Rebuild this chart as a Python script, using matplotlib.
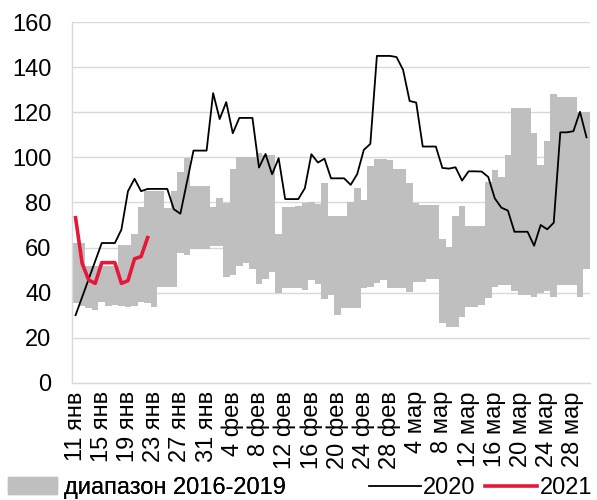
import numpy as np
import pandas as pd
import matplotlib
matplotlib.use('Agg')
import matplotlib.pyplot as plt
from matplotlib.patches import Patch
from matplotlib.lines import Line2D

# days 11 Jan .. 30 Mar
days = pd.date_range('2021-01-11', '2021-03-30', freq='D')

range_max = [62, 62, 52, 52, 52, 52, 52, 61, 61, 66,
             78, 85, 85, 85, 77.5, 85, 93.7, 99.5, 87.3, 87.3,
             87.3, 78, 82, 79.6, 95, 100, 100, 100, 102, 101,
             101, 66, 78, 78, 78.4, 79.6, 80, 79.3, 88.5, 74,
             74, 74, 80.4, 86.3, 81.1, 96.3, 99.3, 99.3, 99, 94.7,
             94.7, 88.5, 79.6, 79, 79, 79, 63.8, 60.4, 74, 78.4,
             69.7, 69.7, 69.7, 89, 94.4, 91.4, 101, 122, 122, 122,
             111, 96.6, 107.3, 128, 126.6, 126.6, 126.6, 120, 120]

range_min = [35.5, 34, 33, 32.5, 36, 34, 34.4, 34, 33.5, 34,
             35.7, 35.3, 33.8, 42.6, 42.6, 42.6, 57.4, 56.7, 59.4, 59.4,
             59.4, 60.7, 60.7, 46.8, 47.8, 52, 53.3, 50.5, 43.8, 45.9,
             49.3, 39.7, 41.9, 41.9, 41.9, 41.2, 45.6, 43.8, 37, 39,
             30.1, 33, 33, 33, 41.9, 42.6, 44.1, 45.6, 41.9, 41.9,
             41.9, 40.4, 44.6, 44.6, 46.2, 46.2, 26.4, 24.9, 24.9, 29.3,
             33.8, 33.8, 34.5, 37.5, 42.4, 43.4, 43.4, 40.9, 39, 39,
             38.2, 39.7, 40.9, 37.9, 43.4, 43.4, 43.4, 38, 50.4]

y2020 = [30, 38, 46, 54, 62, 62, 62, 68, 85, 90.5,
         85, 86, 86, 86, 86, 77, 75, 89, 103, 103,
         103, 128.5, 117, 124.5, 110.7, 117.5, 117.5, 117.5, 95.5, 101.5,
         92.5, 99.6, 81.5, 81.5, 81.5, 86.3, 101.4, 97.7, 99.4, 90.7,
         90.7, 90.7, 87.8, 92.6, 103.3, 106, 145, 145, 145, 144.5,
         138.8, 125, 124.3, 104.8, 104.8, 104.8, 95.3, 95, 95.6, 89.7,
         93.8, 93.8, 93.7, 91.3, 81.8, 77.7, 76.4, 67, 67, 67,
         60.8, 70, 68.1, 71, 111.1, 111.1, 111.6, 120.2, 108.9]

y2021 = [73.2, 53, 45.6, 44.1, 53.3, 53.3, 53.3, 44.1, 45.3, 55, 56, 64.4]

tick_labels = ['11 янв', '15 янв', '19 янв', '23 янв', '27 янв', '31 янв',
               '4 фев', '8 фев', '12 фев', '16 фев', '20 фев', '24 фев', '28 фев',
               '4 мар', '8 мар', '12 мар', '16 мар', '20 мар', '24 мар', '28 мар']

plt.rcParams['font.family'] = ['Liberation Sans', 'DejaVu Sans']
fs = 17
grey = '#BFBFBF'
red = '#E8173A'

fig = plt.figure(figsize=(5.97, 5.0), dpi=100)
ax = fig.add_axes([0.1211, 0.2344, 0.8668, 0.7214])

x = np.arange(len(days))
# floating range bars, one per day, drawn as a single stepped band
edges = np.arange(len(days) + 1) - 0.5
ax.stairs(range_max, edges, baseline=range_min, fill=True,
          color=grey, linewidth=0, zorder=2)
ax.plot(x, y2020, color='black', lw=1.3, zorder=3)
ax.plot(x[:len(y2021)], y2021, color=red, lw=2.6, zorder=4)

ax.set_xlim(-0.5, len(days) - 0.5)
ax.set_ylim(0, 160)
ax.set_yticks(np.arange(0, 161, 20))
ax.set_xticks(x[::4])
ax.set_xticklabels(tick_labels, rotation=90, fontsize=fs)
ax.tick_params(axis='y', labelsize=fs, length=0, pad=15)
ax.tick_params(axis='x', length=0, pad=6)
ax.grid(axis='y', color='#D9D9D9', lw=1.0, zorder=0)
ax.set_axisbelow(True)
for s in ['top', 'right']:
    ax.spines[s].set_visible(False)
for s in ['left', 'bottom']:
    ax.spines[s].set_color('#D9D9D9')
    ax.spines[s].set_linewidth(1.0)

leg1 = fig.legend(handles=[Patch(color=grey, label='диапазон 2016-2019')],
                  loc='center left', bbox_to_anchor=(0.013, 0.024), frameon=False,
                  fontsize=fs, borderpad=0, borderaxespad=0, handlelength=2.1,
                  handletextpad=0.3)
leg2 = fig.legend(handles=[Line2D([], [], color='black', lw=1.3, label='2020'),
                           Line2D([], [], color=red, lw=2.6, label='2021')],
                  loc='center left', bbox_to_anchor=(0.618, 0.024), frameon=False,
                  fontsize=fs, ncol=2, borderpad=0, borderaxespad=0,
                  handlelength=2.2, handletextpad=0.1, columnspacing=0.4)
fig.add_artist(leg1)

fig.savefig('out.png', dpi=100)
